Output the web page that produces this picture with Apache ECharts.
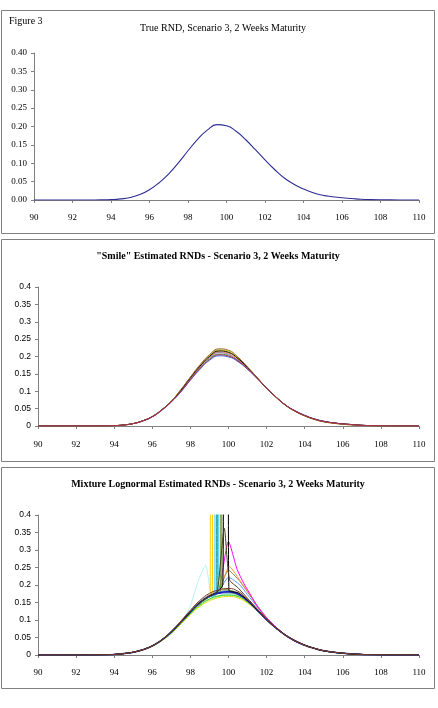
<!DOCTYPE html>
<html><head><meta charset="utf-8">
<script src="https://cdn.jsdelivr.net/npm/echarts@6/dist/echarts.min.js"></script>
<style>html,body{margin:0;padding:0;background:#fff}#c{width:438px;height:708px}</style>
</head><body><div id="c"></div>
<script>
// ---------- data ----------
const X_TICKS = [90,92,94,96,98,100,102,104,106,108,110];
const GRID_X = [90,91,92,93,93.5,94,94.5,95,95.5,96,96.5,97,97.5,98,98.5,99,99.5,100,100.5,101,101.5,102,102.5,103,103.5,104,104.5,105,105.5,106,106.5,107,107.5,108,109,110];

// Panel 1: true RND
const TRUE_RND = [0,0,0,0.0001,0.0003,0.001,0.003,0.007,0.015,0.028,0.047,0.071,0.101,0.134,0.165,0.190,0.205,0.202,0.187,0.164,0.137,0.109,0.083,0.060,0.043,0.030,0.020,0.013,0.009,0.006,0.004,0.002,0.001,0.0005,0.0001,0];

// Panel 2: "smile" estimated RNDs
const SMILE_1 = [0,0,0,0.0001,0.0003,0.001,0.003,0.007,0.015,0.027,0.046,0.070,0.100,0.134,0.166,0.193,0.207,0.203,0.188,0.165,0.138,0.109,0.083,0.060,0.043,0.030,0.020,0.013,0.009,0.006,0.004,0.002,0.001,0.0005,0.0001,0];
const SMILE_2 = [0,0,0,0.0001,0.0003,0.001,0.003,0.007,0.015,0.027,0.046,0.071,0.102,0.137,0.170,0.198,0.213,0.209,0.192,0.167,0.139,0.109,0.083,0.060,0.043,0.030,0.020,0.013,0.009,0.006,0.004,0.002,0.001,0.0005,0.0001,0];
const SMILE_3 = [0,0,0,0.0001,0.0003,0.001,0.003,0.007,0.015,0.027,0.047,0.072,0.104,0.140,0.174,0.203,0.219,0.215,0.196,0.169,0.139,0.109,0.082,0.059,0.042,0.029,0.019,0.012,0.008,0.005,0.003,0.0015,0.0007,0.0003,0.0001,0];
const SMILE_4 = [0,0,0,0.0001,0.0003,0.001,0.003,0.007,0.014,0.026,0.045,0.069,0.098,0.132,0.163,0.189,0.202,0.199,0.185,0.163,0.137,0.109,0.083,0.060,0.044,0.031,0.021,0.014,0.009,0.006,0.004,0.002,0.001,0.0005,0.0001,0];
const SMILE_5 = [0,0,0,0.0001,0.0003,0.001,0.003,0.007,0.015,0.027,0.046,0.070,0.101,0.136,0.168,0.196,0.211,0.206,0.189,0.165,0.138,0.109,0.083,0.060,0.043,0.030,0.020,0.013,0.009,0.006,0.004,0.002,0.001,0.0005,0.0001,0];
const SMILE_6 = [0,0,0,0.0001,0.0003,0.001,0.003,0.007,0.015,0.027,0.047,0.071,0.103,0.139,0.172,0.200,0.216,0.212,0.194,0.168,0.139,0.109,0.083,0.060,0.043,0.030,0.020,0.013,0.009,0.006,0.004,0.002,0.001,0.0005,0.0001,0];
const SMILE_7 = [0,0,0,0.0001,0.0003,0.001,0.003,0.007,0.015,0.028,0.047,0.072,0.105,0.141,0.176,0.205,0.222,0.218,0.198,0.170,0.140,0.109,0.082,0.059,0.042,0.029,0.019,0.012,0.008,0.005,0.003,0.0015,0.0007,0.0003,0.0001,0];
const SMILE_8 = [0,0,0,0.0001,0.0003,0.001,0.003,0.007,0.015,0.027,0.046,0.070,0.099,0.133,0.165,0.191,0.205,0.201,0.187,0.164,0.137,0.109,0.083,0.060,0.043,0.030,0.020,0.013,0.009,0.006,0.004,0.002,0.001,0.0005,0.0001,0];
const SMILE_COLORS = ['#33cc33','#ff9900','#cccc00','#3366ff','#9966cc','#000000','#996633','#b03050'];

// Panel 3: mixture lognormal estimated RNDs (smooth members on GRID_X)
const MIX_BLUE   = [0,0,0,0.0001,0.0004,0.0015,0.004,0.008,0.015,0.026,0.043,0.066,0.094,0.123,0.150,0.168,0.178,0.181,0.174,0.155,0.129,0.101,0.077,0.056,0.040,0.028,0.019,0.012,0.008,0.005,0.003,0.0015,0.0007,0.0003,0.0001,0];
const MIX_NAVY   = [0,0,0,0.0001,0.0004,0.0015,0.004,0.008,0.015,0.026,0.043,0.065,0.092,0.121,0.147,0.166,0.176,0.178,0.172,0.153,0.128,0.100,0.076,0.056,0.040,0.028,0.019,0.012,0.008,0.005,0.003,0.0015,0.0007,0.0003,0.0001,0];
const MIX_YELLOW = [0,0,0,0.0001,0.0004,0.0015,0.004,0.008,0.014,0.025,0.041,0.062,0.088,0.115,0.139,0.155,0.164,0.167,0.163,0.148,0.126,0.101,0.078,0.057,0.041,0.029,0.020,0.013,0.008,0.005,0.003,0.0015,0.0007,0.0003,0.0001,0];
const MIX_GREEN  = [0,0,0,0.0001,0.0004,0.0015,0.004,0.008,0.015,0.025,0.042,0.063,0.090,0.118,0.143,0.160,0.169,0.171,0.167,0.151,0.127,0.100,0.077,0.056,0.040,0.028,0.019,0.012,0.008,0.005,0.003,0.0015,0.0007,0.0003,0.0001,0];
const MIX_GRAY   = [0,0,0,0.0001,0.0004,0.0015,0.004,0.008,0.015,0.026,0.044,0.067,0.096,0.126,0.153,0.172,0.182,0.184,0.176,0.156,0.130,0.102,0.077,0.056,0.040,0.028,0.019,0.012,0.008,0.005,0.003,0.0015,0.0007,0.0003,0.0001,0];
const MIX_LTGRN  = [0,0,0,0.0001,0.0004,0.0015,0.004,0.008,0.015,0.025,0.042,0.063,0.089,0.117,0.141,0.158,0.167,0.172,0.169,0.152,0.127,0.100,0.077,0.056,0.040,0.028,0.019,0.012,0.008,0.005,0.003,0.0015,0.0007,0.0003,0.0001,0];
const MIX_BROWN  = [0,0,0,0.0001,0.0004,0.0015,0.004,0.008,0.015,0.026,0.044,0.068,0.097,0.128,0.156,0.176,0.186,0.190,0.182,0.159,0.131,0.102,0.077,0.056,0.040,0.028,0.019,0.012,0.008,0.005,0.003,0.0015,0.0007,0.0003,0.0001,0];

// Panel 3: members with narrow spikes / kinks ([x, y] pairs)
const MIX_BLACK = [[90,0],[92,0],[93,0.0001],[93.5,0.0004],[94,0.0015],[94.5,0.004],[95,0.008],[95.5,0.015],[96,0.026],[96.5,0.043],[97,0.066],[97.5,0.094],[98,0.124],[98.5,0.150],[99,0.169],[99.4,0.180],[99.7,0.200],[99.76,0.700],[99.97,0.700],[100.02,0.185],[100.5,0.178],[101,0.157],[101.5,0.130],[102,0.101],[102.5,0.077],[103,0.056],[103.5,0.040],[104,0.028],[104.5,0.019],[105,0.012],[105.5,0.008],[106,0.005],[106.5,0.003],[107,0.0015],[108,0.0003],[109,0.0001],[110,0]];
const MIX_DKOLIVE = [[90,0],[92,0],[93,0.0001],[93.5,0.0004],[94,0.0015],[94.5,0.004],[95,0.008],[95.5,0.015],[96,0.026],[96.5,0.043],[97,0.066],[97.5,0.094],[98,0.124],[98.5,0.150],[99,0.169],[99.4,0.180],[99.78,0.362],[100.05,0.215],[100.5,0.192],[101,0.162],[101.5,0.132],[102,0.102],[102.5,0.077],[103,0.056],[103.5,0.040],[104,0.028],[104.5,0.019],[105,0.012],[105.5,0.008],[106,0.005],[106.5,0.003],[107,0.0015],[108,0.0003],[109,0.0001],[110,0]];
const MIX_MAGENTA = [[90,0],[92,0],[93,0.0001],[93.5,0.0004],[94,0.0015],[94.5,0.004],[95,0.008],[95.5,0.015],[96,0.026],[96.5,0.043],[97,0.065],[97.5,0.093],[98,0.122],[98.5,0.148],[99,0.167],[99.5,0.188],[100,0.324],[100.45,0.245],[100.8,0.205],[101.2,0.168],[101.5,0.140],[102,0.106],[102.5,0.079],[103,0.057],[103.5,0.041],[104,0.028],[104.5,0.019],[105,0.012],[105.5,0.008],[106,0.005],[106.5,0.003],[107,0.0015],[108,0.0003],[109,0.0001],[110,0]];
const MIX_ORANGE = [[90,0],[92,0],[93,0.0001],[93.5,0.0004],[94,0.0015],[94.5,0.004],[95,0.008],[95.5,0.015],[96,0.026],[96.5,0.043],[97,0.065],[97.5,0.093],[98,0.122],[98.5,0.148],[99,0.167],[99.5,0.186],[100.05,0.252],[100.7,0.205],[101.2,0.166],[101.5,0.140],[102,0.106],[102.5,0.079],[103,0.057],[103.5,0.041],[104,0.028],[104.5,0.019],[105,0.012],[105.5,0.008],[106,0.005],[106.5,0.003],[107,0.0015],[108,0.0003],[109,0.0001],[110,0]];
const MIX_OLIVE = [[90,0],[92,0],[93,0.0001],[93.5,0.0004],[94,0.0015],[94.5,0.004],[95,0.008],[95.5,0.015],[96,0.026],[96.5,0.043],[97,0.065],[97.5,0.093],[98,0.122],[98.5,0.148],[99,0.167],[99.5,0.185],[100,0.242],[100.6,0.210],[101,0.180],[101.5,0.142],[102,0.107],[102.5,0.079],[103,0.057],[103.5,0.041],[104,0.028],[104.5,0.019],[105,0.012],[105.5,0.008],[106,0.005],[106.5,0.003],[107,0.0015],[108,0.0003],[109,0.0001],[110,0]];
const MIX_LTBLUE = [[90,0],[92,0],[93,0.0001],[93.5,0.0004],[94,0.0015],[94.5,0.004],[95,0.008],[95.5,0.015],[96,0.026],[96.5,0.043],[97,0.065],[97.5,0.093],[98,0.122],[98.5,0.148],[99,0.167],[99.5,0.183],[100,0.222],[100.6,0.200],[101,0.172],[101.5,0.138],[102,0.105],[102.5,0.078],[103,0.057],[103.5,0.041],[104,0.028],[104.5,0.019],[105,0.012],[105.5,0.008],[106,0.005],[106.5,0.003],[107,0.0015],[108,0.0003],[109,0.0001],[110,0]];
const MIX_GOLD = [[90,0],[92,0],[93,0.0001],[93.5,0.0004],[94,0.0015],[94.5,0.004],[95,0.008],[95.5,0.015],[96,0.026],[96.5,0.043],[97,0.065],[97.5,0.093],[98,0.122],[98.5,0.148],[99,0.166],[99.04,0.172],[99.06,0.700],[99.15,0.700],[99.17,0.178],[99.5,0.180],[100,0.180],[100.5,0.172],[101,0.153],[101.5,0.128],[102,0.100],[102.5,0.076],[103,0.056],[103.5,0.040],[104,0.028],[104.5,0.019],[105,0.012],[105.5,0.008],[106,0.005],[106.5,0.003],[107,0.0015],[108,0.0003],[109,0.0001],[110,0]];
const MIX_CYAN = [[90,0],[92,0],[93,0.0001],[93.5,0.0004],[94,0.0015],[94.5,0.004],[95,0.008],[95.5,0.015],[96,0.026],[96.5,0.043],[97,0.065],[97.5,0.093],[98,0.122],[98.5,0.148],[99,0.166],[99.28,0.172],[99.30,0.700],[99.48,0.700],[99.50,0.180],[100,0.182],[100.5,0.174],[101,0.155],[101.5,0.129],[102,0.101],[102.5,0.077],[103,0.056],[103.5,0.040],[104,0.028],[104.5,0.019],[105,0.012],[105.5,0.008],[106,0.005],[106.5,0.003],[107,0.0015],[108,0.0003],[109,0.0001],[110,0]];
const MIX_TEAL = [[90,0],[92,0],[93,0.0001],[93.5,0.0004],[94,0.0015],[94.5,0.004],[95,0.008],[95.5,0.015],[96,0.026],[96.5,0.043],[97,0.065],[97.5,0.093],[98,0.122],[98.5,0.148],[99,0.166],[99.36,0.174],[99.38,0.700],[99.42,0.700],[99.44,0.178],[100,0.180],[100.5,0.173],[101,0.154],[101.5,0.128],[102,0.100],[102.5,0.076],[103,0.056],[103.5,0.040],[104,0.028],[104.5,0.019],[105,0.012],[105.5,0.008],[106,0.005],[106.5,0.003],[107,0.0015],[108,0.0003],[109,0.0001],[110,0]];
const MIX_FERN = [[90,0],[92,0],[93,0.0001],[93.5,0.0004],[94,0.0015],[94.5,0.004],[95,0.008],[95.5,0.015],[96,0.026],[96.5,0.043],[97,0.065],[97.5,0.093],[98,0.122],[98.5,0.148],[99,0.167],[99.58,0.182],[99.60,0.700],[99.64,0.700],[99.66,0.190],[100,0.186],[100.5,0.176],[101,0.156],[101.5,0.129],[102,0.101],[102.5,0.077],[103,0.056],[103.5,0.040],[104,0.028],[104.5,0.019],[105,0.012],[105.5,0.008],[106,0.005],[106.5,0.003],[107,0.0015],[108,0.0003],[109,0.0001],[110,0]];
const MIX_PALECYAN = [[90,0],[92,0],[93,0.0001],[93.5,0.0004],[94,0.0015],[94.5,0.004],[95,0.008],[95.5,0.015],[96,0.025],[96.5,0.040],[97,0.060],[97.5,0.090],[98,0.140],[98.4,0.210],[98.8,0.256],[99.0,0.200],[99.2,0.157],[99.5,0.170],[100,0.176],[100.5,0.170],[101,0.152],[101.5,0.127],[102,0.100],[102.5,0.076],[103,0.056],[103.5,0.040],[104,0.028],[104.5,0.019],[105,0.012],[105.5,0.008],[106,0.005],[106.5,0.003],[107,0.0015],[108,0.0003],[109,0.0001],[110,0]];

// ---------- chart ----------
const SERIF = '"Liberation Serif","Times New Roman",serif';
const SANS = '"Liberation Sans",Arial,sans-serif';
const chart = echarts.init(document.getElementById('c'), null, {renderer:'canvas'});

function onGrid(arr){ return GRID_X.map((x,i)=>[x, arr[i]]); }
function xAxis(gi, margin){
  return {type:'value', gridIndex:gi, min:90, max:110, interval:2,
    axisLine:{show:true, lineStyle:{color:'#808080', width:1}},
    axisTick:{show:true, length:3, lineStyle:{color:'#808080'}},
    axisLabel:{margin:margin, color:'#000', fontFamily:SERIF, fontSize:9},
    splitLine:{show:false}};
}
function yAxis(gi, fmt, font, size){
  return {type:'value', gridIndex:gi, min:0, max:0.4, interval:0.05,
    axisLine:{show:true, lineStyle:{color:'#808080', width:1}},
    axisTick:{show:true, length:3, lineStyle:{color:'#808080'}},
    axisLabel:{margin:7, color:'#000', fontFamily:font, fontSize:size, formatter:fmt},
    splitLine:{show:false}};
}
const fmt2 = v => v.toFixed(2);
const fmtG = v => String(parseFloat(v.toFixed(2)));

function line(gi, data, color, width, smooth){
  return {type:'line', xAxisIndex:gi, yAxisIndex:gi, data:data, showSymbol:false, symbol:'none',
    smooth: smooth, clip:true, silent:true, animation:false,
    lineStyle:{color:color, width:width}};
}

const series = [];
series.push(line(0, onGrid(TRUE_RND), '#2e2e94', 1.1, 0.5));
[SMILE_1,SMILE_2,SMILE_3,SMILE_4,SMILE_5,SMILE_6,SMILE_7,SMILE_8].forEach((s,i)=>{
  series.push(line(1, onGrid(s), SMILE_COLORS[i], 1, 0.5));
});
series.push(line(2, MIX_PALECYAN, '#b8f0f0', 1, 0.2));
series.push(line(2, onGrid(MIX_LTGRN), '#a8f0a8', 1, 0.5));
series.push(line(2, onGrid(MIX_YELLOW), '#e0e000', 1, 0.5));
series.push(line(2, onGrid(MIX_GREEN), '#33cc33', 1, 0.5));
series.push(line(2, onGrid(MIX_NAVY), '#000080', 1, 0.5));
series.push(line(2, onGrid(MIX_GRAY), '#999999', 1, 0.5));
series.push(line(2, MIX_LTBLUE, '#6699ff', 1, 0.2));
series.push(line(2, MIX_OLIVE, '#808060', 1, 0.2));
series.push(line(2, MIX_ORANGE, '#ff9933', 1, 0.2));
series.push(line(2, MIX_MAGENTA, '#ff00ff', 1, 0.2));
series.push(line(2, MIX_GOLD, '#ffcc00', 1, 0.2));
series.push(line(2, MIX_CYAN, '#33ccff', 1, 0.2));
series.push(line(2, MIX_TEAL, '#33aaaa', 1, 0.2));
series.push(line(2, MIX_FERN, '#669933', 1, 0.2));
series.push(line(2, onGrid(MIX_BLUE), '#1a1acc', 1.5, 0.5));
series.push(line(2, MIX_BLACK, '#000000', 1, 0.2));
series.push(line(2, MIX_DKOLIVE, '#4d4020', 1, 0.2));
series.push(line(2, onGrid(MIX_BROWN), '#7a3b2e', 1, 0.5));

const option = {
  backgroundColor:'#fff',
  animation:false,
  grid:[
    {left:34, right:19, top:53, height:147},
    {left:38, right:19, top:287, height:139},
    {left:38, right:19, top:515, height:140}
  ],
  xAxis:[xAxis(0,13), xAxis(1,14), xAxis(2,13)],
  yAxis:[yAxis(0,fmt2,SERIF,9), yAxis(1,fmtG,SANS,8.5), yAxis(2,fmtG,SANS,8.5)],
  series: series,
  graphic:[
    {type:'rect', shape:{x:1.5,y:10.5,width:433,height:223}, style:{fill:'none', stroke:'#808080', lineWidth:1}, silent:true},
    {type:'rect', shape:{x:1.5,y:239.5,width:433,height:222}, style:{fill:'none', stroke:'#808080', lineWidth:1}, silent:true},
    {type:'rect', shape:{x:1.5,y:467.5,width:433,height:221}, style:{fill:'none', stroke:'#808080', lineWidth:1}, silent:true},
    {type:'text', x:9, y:21, style:{text:'Figure 3', fontFamily:SERIF, fontSize:10, fill:'#000', textAlign:'left', textVerticalAlign:'middle'}, silent:true},
    {type:'text', x:223, y:28, style:{text:'True RND, Scenario 3, 2 Weeks Maturity', fontFamily:SERIF, fontSize:10, fill:'#000', textAlign:'center', textVerticalAlign:'middle'}, silent:true},
    {type:'text', x:218, y:256, style:{text:'"Smile" Estimated RNDs - Scenario 3, 2 Weeks Maturity', fontFamily:SERIF, fontSize:10, fontWeight:'bold', fill:'#000', textAlign:'center', textVerticalAlign:'middle'}, silent:true},
    {type:'text', x:218, y:484, style:{text:'Mixture Lognormal Estimated RNDs - Scenario 3, 2 Weeks Maturity', fontFamily:SERIF, fontSize:10, fontWeight:'bold', fill:'#000', textAlign:'center', textVerticalAlign:'middle'}, silent:true}
  ]
};
chart.setOption(option);
</script></body></html>
